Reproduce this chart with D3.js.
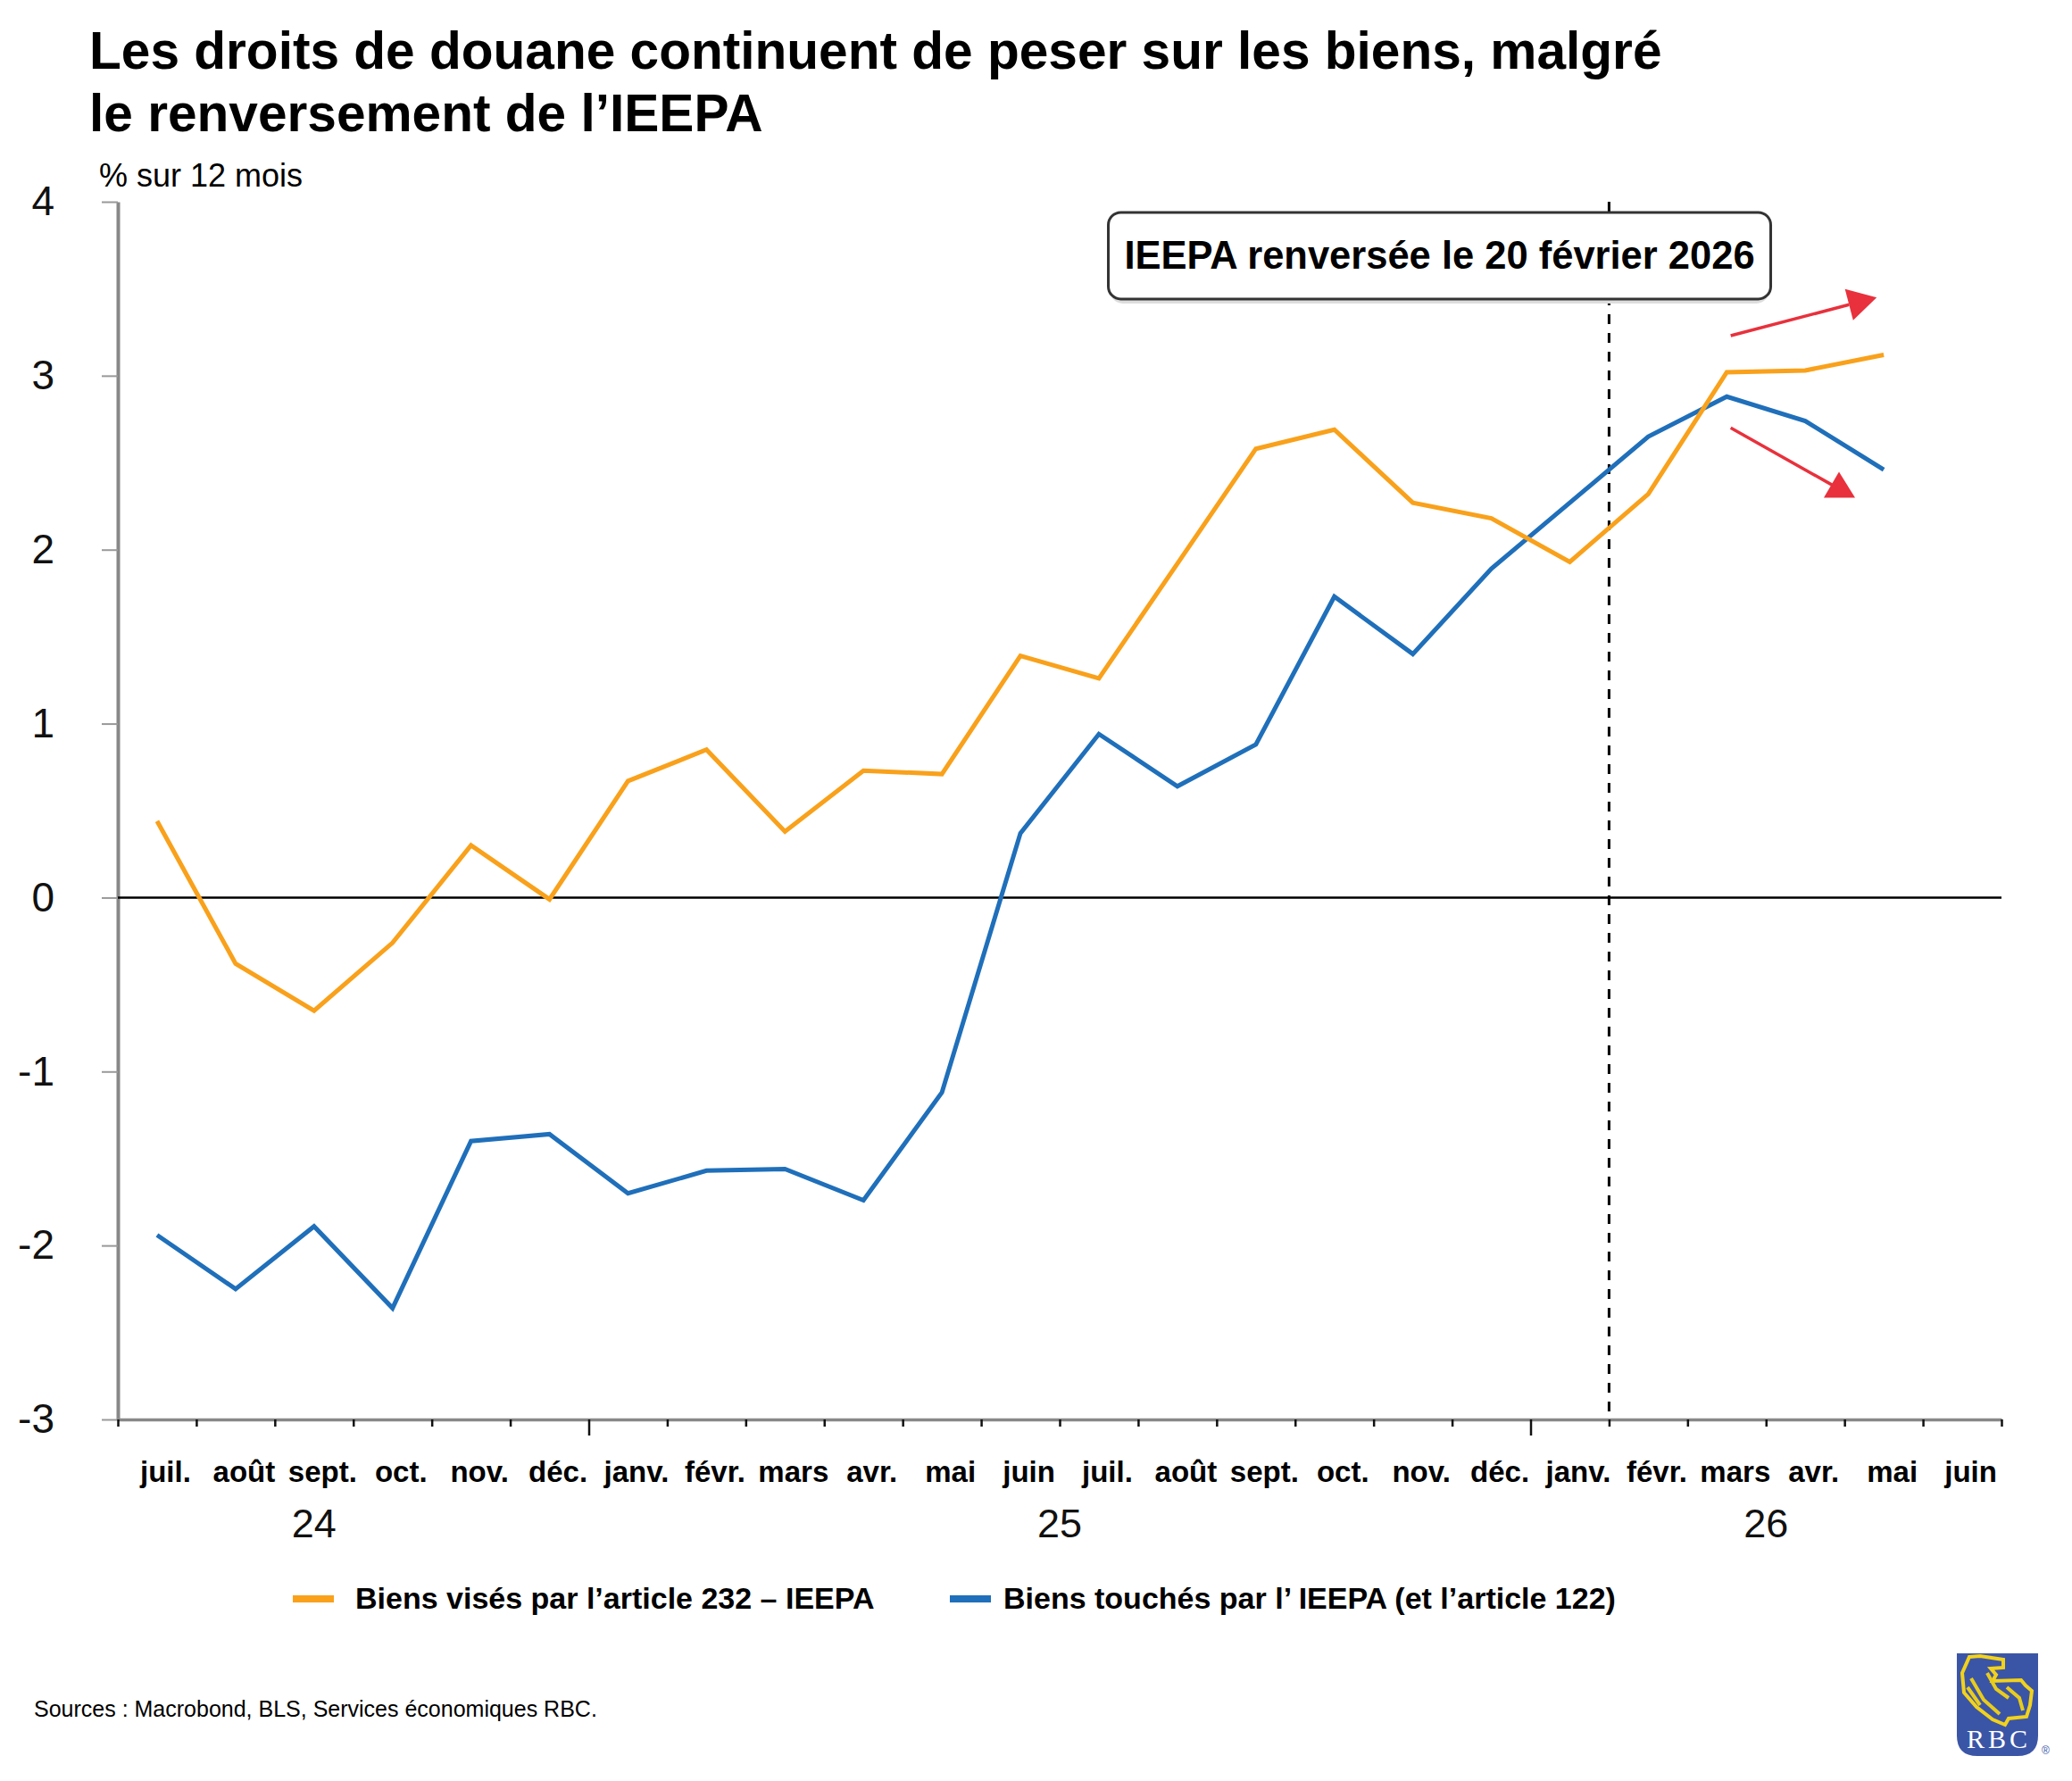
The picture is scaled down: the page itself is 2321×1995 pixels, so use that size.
<!DOCTYPE html>
<html lang="fr">
<head>
<meta charset="utf-8">
<title>Droits de douane - biens</title>
<script src="https://cdn.jsdelivr.net/npm/d3@7"></script>
<style>
    body { margin: 0; background: #fff; }
    svg { display: block; font-family: "Liberation Sans", Arial, Helvetica, sans-serif; }
</style>
</head>
<body>
<div id="chart"></div>
<script>
// months from juil. 2024 to juin 2026, one label per month slot
var months = ["juil.", "août", "sept.", "oct.", "nov.", "déc.", "janv.", "févr.", "mars", "avr.", "mai", "juin",
    "juil.", "août", "sept.", "oct.", "nov.", "déc.", "janv.", "févr.", "mars", "avr.", "mai", "juin"];
var years = ["24", "25", "26"];
var yearSlots = [2.5, 12, 21];
var yTicks = [-3, -2, -1, 0, 1, 2, 3, 4];

// % sur 12 mois, juil. 2024 -> mai 2026
var art232 = [0.44, -0.38, -0.65, -0.26, 0.30, -0.01, 0.67, 0.85, 0.38, 0.73, 0.71, 1.39,
    1.26, 1.92, 2.58, 2.69, 2.27, 2.18, 1.93, 2.32, 3.02, 3.03, 3.12];
var ieepa = [-1.94, -2.25, -1.89, -2.36, -1.40, -1.36, -1.70, -1.57, -1.56, -1.74, -1.12, 0.37,
    0.94, 0.64, 0.88, 1.73, 1.40, 1.89, 2.27, 2.65, 2.88, 2.74, 2.46];

var seriesNames = ["Biens visés par l\u2019article 232 \u2013 IEEPA", "Biens touchés par l\u2019 IEEPA (et l\u2019article 122)"];
var seriesColors = ["#f9a11b", "#1f6fba"];

var Chart = function (params) {
    this.queryEl = params.queryEl;
    this.width = params.width;
    this.height = params.height;
    this.x = d3.scaleLinear().domain([0, months.length]).range([132, 2242]);
    this.y = d3.scaleLinear().domain([-3, 4]).range([1590, 226]);
};

Chart.prototype.init = function () {
    this.svg = d3.select(this.queryEl)
        .append("svg")
        .attr("width", this.width)
        .attr("height", this.height);
    this.buildTitles();
    this.buildAxes();
    this.buildEvent();
    this.buildLines();
    this.buildArrows();
    this.buildLegend();
    this.buildLogo();
};

Chart.prototype.buildTitles = function () {
    var t = this.svg.append("text")
        .attr("x", 100)
        .attr("font-size", 58.6)
        .attr("font-weight", "bold")
        .attr("fill", "#000");
    t.append("tspan").attr("x", 100).attr("y", 77).text("Les droits de douane continuent de peser sur les biens, malgré");
    t.append("tspan").attr("x", 100).attr("y", 147).text("le renversement de l\u2019IEEPA");

    this.svg.append("text")
        .attr("x", 111)
        .attr("y", 209)
        .attr("font-size", 36)
        .text("% sur 12 mois");

    this.svg.append("text")
        .attr("x", 38)
        .attr("y", 1923)
        .attr("font-size", 25)
        .text("Sources : Macrobond, BLS, Services économiques RBC.");
};

Chart.prototype.buildAxes = function () {
    var x = this.x, y = this.y;

    var yAxis = this.svg.append("g")
        .attr("transform", "translate(" + x(0) + ",0)")
        .call(d3.axisLeft(y).tickValues(yTicks).tickSize(18).tickSizeOuter(0).tickPadding(53)
            .tickFormat(d3.format("d")));
    yAxis.select(".domain").attr("stroke", "#888").attr("stroke-width", 4);
    yAxis.selectAll(".tick line").attr("stroke", "#999").attr("stroke-width", 2);
    yAxis.selectAll(".tick text")
        .attr("font-size", 46)
        .attr("font-family", "Liberation Sans, Arial, sans-serif")
        .attr("fill", "#111")
        .text(function (d) { return d < 0 ? "-" + Math.abs(d) : d; });

    // zero line
    this.svg.append("line")
        .attr("x1", x(0)).attr("x2", x(months.length))
        .attr("y1", y(0)).attr("y2", y(0))
        .attr("stroke", "#000").attr("stroke-width", 2.5);

    var xAxis = this.svg.append("g")
        .attr("transform", "translate(0," + y(-3) + ")")
        .call(d3.axisBottom(x).tickValues(d3.range(0, months.length + 1)).tickSize(8).tickSizeOuter(0)
            .tickFormat(""));
    xAxis.select(".domain").attr("stroke", "#888").attr("stroke-width", 3.5);
    xAxis.selectAll(".tick line")
        .attr("stroke", "#111").attr("stroke-width", 2.5)
        .attr("y2", function (d) { return (d % 12 === 6) ? 18 : 8; });

    var monthAxis = this.svg.append("g")
        .attr("transform", "translate(9," + y(-3) + ")")
        .call(d3.axisBottom(x).tickValues(d3.range(0, months.length).map(function (i) { return i + 0.5; }))
            .tickSize(0).tickFormat(function (d, i) { return months[i]; }));
    monthAxis.select(".domain").remove();
    monthAxis.selectAll(".tick text")
        .attr("y", 70).attr("dy", 0)
        .attr("font-size", 33)
        .attr("font-weight", "bold")
        .attr("font-family", "Liberation Sans, Arial, sans-serif")
        .attr("fill", "#000");

    this.svg.append("g").selectAll("text")
        .data(years)
        .enter()
        .append("text")
        .attr("x", function (d, i) { return x(yearSlots[i]); })
        .attr("y", 1722)
        .attr("text-anchor", "middle")
        .attr("font-size", 45)
        .attr("fill", "#111")
        .text(function (d) { return d; });
};

Chart.prototype.buildEvent = function () {
    var x = this.x, y = this.y;
    // IEEPA overturned: dashed marker at the févr. 2026 boundary
    this.svg.append("line")
        .attr("x1", x(19)).attr("x2", x(19))
        .attr("y1", y(4)).attr("y2", y(-3))
        .attr("stroke", "#000").attr("stroke-width", 3)
        .attr("stroke-dasharray", "11,10");

    var cx = x(16.84), cy = y(3.69), w = 742, h = 97;
    this.svg.append("rect")
        .attr("x", cx - w / 2 + 2).attr("y", cy - h / 2 + 5)
        .attr("width", w - 4).attr("height", h)
        .attr("rx", 14)
        .attr("fill", "#ddd");
    this.svg.append("rect")
        .attr("x", cx - w / 2).attr("y", cy - h / 2)
        .attr("width", w).attr("height", h)
        .attr("rx", 14)
        .attr("fill", "#fff")
        .attr("stroke", "#333")
        .attr("stroke-width", 3);
    this.svg.append("text")
        .attr("x", cx).attr("y", cy + 15)
        .attr("text-anchor", "middle")
        .attr("font-size", 43.5)
        .attr("font-weight", "bold")
        .text("IEEPA renversée le 20 février 2026");
};

Chart.prototype.buildLines = function () {
    var x = this.x, y = this.y;
    var line = d3.line()
        .x(function (d, i) { return x(i + 0.5); })
        .y(function (d) { return y(d); });
    var data = [ieepa, art232];
    var colors = [seriesColors[1], seriesColors[0]];
    this.svg.append("g").selectAll("path")
        .data(data)
        .enter()
        .append("path")
        .attr("d", line)
        .attr("fill", "none")
        .attr("stroke", function (d, i) { return colors[i]; })
        .attr("stroke-width", 5)
        .attr("stroke-linejoin", "miter");
};

Chart.prototype.buildArrows = function () {
    var x = this.x, y = this.y;
    var red = "#e8313c";
    // slots are in month units from juil. 2024
    var up = { from: [20.55, 3.23], to: [22.41, 3.45] };
    var down = { from: [20.55, 2.70], to: [21.85, 2.37] };

    var x1 = x(up.from[0]), y1 = y(up.from[1]), x2 = x(up.to[0]), y2 = y(up.to[1]);
    var ang = Math.atan2(y2 - y1, x2 - x1);
    var len = 32, half = 18;
    var bx = x2 - len * Math.cos(ang), by = y2 - len * Math.sin(ang);
    this.svg.append("line")
        .attr("x1", x1).attr("y1", y1).attr("x2", bx).attr("y2", by)
        .attr("stroke", red).attr("stroke-width", 3.5);
    this.svg.append("path")
        .attr("d", "M" + x2 + "," + y2 +
            "L" + (bx + half * Math.sin(ang)) + "," + (by - half * Math.cos(ang)) +
            "L" + (bx - half * Math.sin(ang)) + "," + (by + half * Math.cos(ang)) + "Z")
        .attr("fill", red);

    var dx1 = x(down.from[0]), dy1 = y(down.from[1]), dx2 = x(down.to[0]), dy2 = y(down.to[1]);
    this.svg.append("line")
        .attr("x1", dx1).attr("y1", dy1).attr("x2", dx2).attr("y2", dy2)
        .attr("stroke", red).attr("stroke-width", 3.5);
    // head drawn upright, like in the source chart
    var tx = dx2 + 7, ty = dy2 - 15;
    this.svg.append("path")
        .attr("d", "M" + tx + "," + ty + "L" + (tx + 18) + "," + (ty + 29) + "L" + (tx - 17) + "," + (ty + 29) + "Z")
        .attr("fill", red);
};

Chart.prototype.buildLegend = function () {
    var items = [{ x: 328, dx: 70, name: seriesNames[0], color: seriesColors[0] },
        { x: 1064, dx: 60, name: seriesNames[1], color: seriesColors[1] }];
    var g = this.svg.append("g").selectAll("g")
        .data(items)
        .enter()
        .append("g")
        .attr("transform", function (d) { return "translate(" + d.x + ",1791)"; });
    g.append("line")
        .attr("x1", 0).attr("x2", 46)
        .attr("stroke", function (d) { return d.color; })
        .attr("stroke-width", 8);
    g.append("text")
        .attr("x", function (d) { return d.dx; }).attr("y", 11)
        .attr("font-size", 34)
        .attr("font-weight", "bold")
        .text(function (d) { return d.name; });
};

Chart.prototype.buildLogo = function () {
    var g = this.svg.append("g").attr("transform", "translate(2192,1852)");
    g.append("path")
        .attr("d", "M0,0H91V92Q91,115 68,115H23Q0,115 0,92Z")
        .attr("fill", "#3b55a6");
    // lion, roughly
    g.append("path")
        .attr("d", "M14,4L26,3L52,7L52,16L38,17L44,24L40,31L72,30L77,36L84,42L82,58L78,71L58,73L54,80L40,74L22,60L8,44L6,22Z")
        .attr("fill", "none")
        .attr("stroke", "#f2d21b")
        .attr("stroke-width", 4);
    g.append("path")
        .attr("d", "M16,28L30,52L48,68M12,38L26,58M34,22L44,40L58,50M56,38L70,50L74,64")
        .attr("fill", "none")
        .attr("stroke", "#e8cc1c")
        .attr("stroke-width", 4);
    g.append("text")
        .attr("x", 45).attr("y", 106)
        .attr("text-anchor", "middle")
        .attr("font-size", 30)
        .attr("font-family", "Liberation Serif, serif")
        .attr("fill", "#fff")
        .attr("textLength", 68)
        .text("RBC");
    g.append("text")
        .attr("x", 95).attr("y", 113)
        .attr("font-size", 12)
        .attr("fill", "#3b55a6")
        .text("\u00ae");
};

var chart = new Chart({ queryEl: "#chart", width: 2321, height: 1995 });
chart.init();
</script>
</body>
</html>
